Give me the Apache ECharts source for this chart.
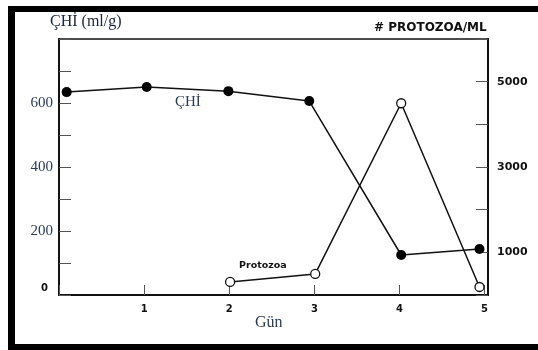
<!DOCTYPE html>
<html><head><meta charset="utf-8">
<script src="https://cdn.jsdelivr.net/npm/echarts@6/dist/echarts.min.js"></script>
<style>html,body{margin:0;padding:0;background:#fff}#c{width:538px;height:350px}</style>
</head><body><div id="c"></div>
<script>
// Data
var chiPoints = [[0.09, 634], [1.03, 650], [1.99, 637], [2.94, 606], [4.02, 125], [4.94, 144]];
var protozoaPoints = [[2.01, 306], [3.01, 494], [4.02, 4494], [4.94, 188]];
var xTickLabels = [1, 2, 3, 4, 5];
var leftTickLabels = [0, 200, 400, 600];
var rightTickLabels = [1000, 3000, 5000];

var serif = '"Liberation Serif","DejaVu Serif",serif';
var sans = '"DejaVu Sans","Liberation Sans",sans-serif';
var ink = '#1b2436';

var chart = echarts.init(document.getElementById('c'), null, {renderer: 'canvas'});
chart.setOption({
  animation: false,
  backgroundColor: '#fff',
  grid: {left: 59, top: 39, right: 50, bottom: 55, show: true, borderColor: '#111', borderWidth: 1.5, backgroundColor: 'transparent'},
  xAxis: {
    type: 'value', min: 0, max: 5.04, interval: 1,
    axisLine: {show: true, lineStyle: {color: '#111', width: 2}},
    axisTick: {show: true, inside: true, length: 10, lineStyle: {color: '#555', width: 1}},
    splitLine: {show: false},
    axisLabel: {
      margin: 9, showMaxLabel: false,
      fontFamily: sans, fontWeight: 'bold', fontSize: 10, color: '#111',
      formatter: function (v) { return xTickLabels.indexOf(Math.round(v)) >= 0 && Math.abs(v - Math.round(v)) < 1e-6 ? String(Math.round(v)) : ''; }
    }
  },
  yAxis: [{
    type: 'value', min: 0, max: 800, interval: 100, position: 'left',
    axisLine: {show: true, lineStyle: {color: '#111', width: 2}},
    axisTick: {show: true, inside: true, length: 12, lineStyle: {color: '#555', width: 1}},
    splitLine: {show: false},
    axisLabel: {
      margin: 6,
      formatter: function (v) {
        if (leftTickLabels.indexOf(v) < 0) return '';
        return v === 0 ? '{b|0}' : '{s|' + v + '}';
      },
      rich: {
        b: {fontFamily: sans, fontWeight: 'bold', fontSize: 10, color: '#111', padding: [0, 5, 14, 0]},
        s: {fontFamily: serif, fontSize: 15, color: '#2b3a55'}
      }
    }
  }, {
    type: 'value', min: 0, max: 6000, interval: 1000, position: 'right',
    axisLine: {show: true, lineStyle: {color: '#111', width: 2}},
    axisTick: {show: true, inside: true, length: 12, lineStyle: {color: '#555', width: 1}},
    splitLine: {show: false},
    axisLabel: {
      margin: 9, fontFamily: sans, fontWeight: 'bold', fontSize: 11, color: '#111',
      formatter: function (v) { return rightTickLabels.indexOf(v) >= 0 ? String(v) : ''; }
    }
  }],
  series: [{
    name: 'ÇHİ', type: 'line', yAxisIndex: 0, data: chiPoints,
    symbol: 'circle', symbolSize: 10,
    lineStyle: {color: '#111', width: 1.5},
    itemStyle: {color: '#000', borderColor: '#000', borderWidth: 0},
    z: 3
  }, {
    name: 'Protozoa', type: 'line', yAxisIndex: 1, data: protozoaPoints,
    symbol: 'circle', symbolSize: 9,
    lineStyle: {color: '#111', width: 1.5},
    itemStyle: {color: '#fff', borderColor: '#111', borderWidth: 1.3},
    z: 4
  }],
  graphic: [
    {type: 'rect', shape: {x: 8, y: 6, width: 530, height: 6}, style: {fill: '#000'}},
    {type: 'rect', shape: {x: 8, y: 6, width: 7, height: 344}, style: {fill: '#000'}},
    {type: 'rect', shape: {x: 8, y: 344, width: 530, height: 6}, style: {fill: '#000'}},
    {type: 'text', left: 50, top: 14, style: {text: 'ÇHİ (ml/g)', font: '16px ' + serif, fill: ink}},
    {type: 'text', left: 374, top: 22, style: {text: '# PROTOZOA/ML', font: 'bold 12px ' + sans, fill: '#111'}},
    {type: 'text', left: 175, top: 95, style: {text: 'ÇHİ', font: '15px ' + serif, fill: '#2b3a55'}},
    {type: 'text', left: 239, top: 261, style: {text: 'Protozoa', font: 'bold 9.5px ' + sans, fill: '#111'}},
    {type: 'text', left: 255, top: 315, style: {text: 'Gün', font: '16px ' + serif, fill: '#2b3a55'}}
  ]
});
</script></body></html>
